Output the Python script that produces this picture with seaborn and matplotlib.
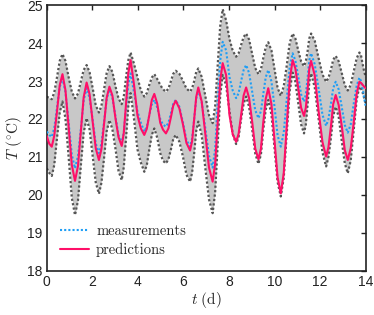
import numpy as np
import pandas as pd
import matplotlib
matplotlib.use("Agg")
import matplotlib.pyplot as plt
import seaborn as sns

# time (days)
t = [0.0, 0.11, 0.22,
     0.33, 0.45, 0.57, 0.69,
     0.82, 0.96, 1.10, 1.24,
     1.37, 1.50, 1.62, 1.75,
     1.88, 2.02, 2.15, 2.29,
     2.40, 2.52, 2.63, 2.75,
     2.88, 3.02, 3.15, 3.29,
     3.38, 3.48, 3.58, 3.68,
     3.83, 3.98, 4.13, 4.28,
     4.39, 4.50, 4.61, 4.72,
     4.85, 4.98, 5.10, 5.23,
     5.34, 5.45, 5.55, 5.66,
     5.82, 5.98, 6.13, 6.29,
     6.38, 6.47, 6.56, 6.65,
     6.80, 6.96, 7.12, 7.28,
     7.39, 7.50, 7.61, 7.72,
     7.87, 8.02, 8.16, 8.31,
     8.42, 8.53, 8.64, 8.75,
     8.88, 9.02, 9.15, 9.29,
     9.40, 9.50, 9.61, 9.72,
     9.86, 10.0, 10.13, 10.27,
     10.40, 10.53, 10.66, 10.79,
     10.91, 11.04, 11.16, 11.29,
     11.37, 11.45, 11.52, 11.60,
     11.76, 11.93, 12.10, 12.26,
     12.36, 12.47, 12.57, 12.68,
     12.81, 12.95, 13.08, 13.21,
     13.34, 13.47, 13.60, 13.72,
     13.79, 13.86, 13.93, 14.0]

predictions = [21.55, 21.35, 21.27,
               21.56, 22.2, 22.89, 23.18,
               22.76, 21.8, 20.79, 20.37,
               20.76, 21.7, 22.57, 22.96,
               22.65, 21.9, 21.23, 20.92,
               21.21, 21.9, 22.56, 22.85,
               22.62, 22.0, 21.52, 21.29,
               21.63, 22.4, 23.21, 23.55,
               22.9, 22.1, 21.75, 21.58,
               21.74, 22.1, 22.5, 22.66,
               22.4, 21.9, 21.72, 21.62,
               21.75, 22.05, 22.35, 22.48,
               22.28, 21.85, 21.37, 21.17,
               21.42, 22.0, 22.58, 22.83,
               22.46, 21.6, 20.72, 20.35,
               20.82, 21.9, 23.0, 23.47,
               23.16, 22.1, 21.6, 21.40,
               21.61, 22.1, 22.62, 22.83,
               22.55, 21.9, 21.22, 20.94,
               21.22, 21.9, 22.53, 22.81,
               22.39, 21.4, 20.46, 20.04,
               20.57, 21.8, 23.02, 23.55,
               23.33, 22.8, 22.3, 22.08,
               22.3, 22.8, 23.31, 23.53,
               23.15, 22.2, 21.39, 21.01,
               21.25, 21.8, 22.39, 22.63,
               22.37, 21.8, 21.18, 20.92,
               21.23, 21.9, 22.67, 22.98,
               22.95, 22.9, 22.85, 22.81]

measurements = [21.67, 21.58, 21.53,
                21.76, 22.3, 22.84, 23.07,
                22.71, 21.9, 21.06, 20.70,
                21.02, 21.75, 22.49, 22.81,
                22.55, 21.95, 21.36, 21.10,
                21.35, 21.95, 22.53, 22.78,
                22.57, 22.05, 21.57, 21.36,
                21.64, 22.3, 22.92, 23.20,
                22.7, 22.2, 21.9, 21.67,
                21.8, 22.1, 22.38, 22.50,
                22.3, 22.0, 21.85, 21.80,
                21.9, 22.15, 22.4, 22.50,
                22.32, 21.9, 21.45, 21.27,
                21.49, 22.0, 22.54, 22.76,
                22.45, 21.75, 21.03, 20.72,
                21.22, 22.4, 23.53, 24.03,
                23.81, 23.1, 22.75, 22.55,
                22.68, 23.0, 23.29, 23.42,
                23.21, 22.7, 22.23, 22.02,
                22.21, 22.65, 23.1, 23.29,
                22.99, 22.3, 21.57, 21.27,
                21.64, 22.5, 23.36, 23.73,
                23.54, 23.1, 22.65, 22.46,
                22.65, 23.1, 23.54, 23.73,
                23.44, 22.8, 22.11, 21.82,
                21.99, 22.4, 22.81, 22.98,
                22.78, 22.3, 21.84, 21.64,
                21.86, 22.4, 22.87, 23.09,
                23.0, 22.8, 22.55, 22.32]

upper = [22.59, 22.55, 22.52,
         22.7, 23.1, 23.53, 23.71,
         23.53, 23.1, 22.72, 22.54,
         22.67, 23.0, 23.29, 23.42,
         23.23, 22.8, 22.36, 22.17,
         22.35, 22.8, 23.21, 23.39,
         23.24, 22.85, 22.54, 22.39,
         22.59, 23.1, 23.55, 23.75,
         23.45, 23.1, 22.75, 22.59,
         22.68, 22.9, 23.09, 23.18,
         23.05, 22.9, 22.78, 22.72,
         22.8, 23.0, 23.19, 23.27,
         23.19, 23.0, 22.8, 22.72,
         22.81, 23.0, 23.24, 23.33,
         23.11, 22.6, 22.1, 21.89,
         22.34, 23.4, 24.44, 24.89,
         24.6, 24.1, 23.8, 23.64,
         23.73, 23.95, 24.16, 24.25,
         24.09, 23.7, 23.34, 23.18,
         23.31, 23.6, 23.89, 24.02,
         23.81, 23.3, 22.82, 22.61,
         22.86, 23.4, 24.0, 24.25,
         24.12, 23.8, 23.52, 23.39,
         23.52, 23.8, 24.12, 24.25,
         24.06, 23.6, 23.17, 22.98,
         23.08, 23.3, 23.56, 23.66,
         23.52, 23.2, 22.89, 22.75,
         22.9, 23.25, 23.6, 23.75,
         23.68, 23.45, 23.25, 23.1]

lower = [20.70, 20.58, 20.50,
         20.79, 21.5, 22.17, 22.46,
         22.01, 21.0, 19.92, 19.47,
         19.85, 20.8, 21.64, 22.02,
         21.72, 21.0, 20.33, 20.03,
         20.32, 21.0, 21.68, 21.97,
         21.73, 21.2, 20.63, 20.39,
         20.73, 21.5, 22.34, 22.68,
         22.0, 21.2, 20.85, 20.61,
         20.78, 21.2, 21.58, 21.75,
         21.5, 21.1, 20.9, 20.83,
         20.94, 21.2, 21.47, 21.58,
         21.4, 21.0, 20.53, 20.35,
         20.59, 21.1, 21.69, 21.93,
         21.57, 20.7, 19.88, 19.52,
         20.07, 21.3, 22.61, 23.16,
         22.89, 22.2, 21.61, 21.34,
         21.53, 22.0, 22.4, 22.59,
         22.32, 21.7, 21.09, 20.82,
         21.07, 21.7, 22.25, 22.50,
         22.12, 21.2, 20.34, 19.96,
         20.45, 21.6, 22.73, 23.22,
         22.98, 22.4, 21.86, 21.62,
         21.86, 22.4, 22.96, 23.20,
         22.83, 22.0, 21.12, 20.75,
         20.99, 21.5, 22.08, 22.32,
         22.06, 21.4, 20.83, 20.57,
         20.91, 21.7, 22.51, 22.85,
         22.8, 22.7, 22.55, 22.4]

x_ticks = [0, 2, 4, 6, 8, 10, 12, 14]
y_ticks = [18, 19, 20, 21, 22, 23, 24, 25]

df = pd.DataFrame({"t": t, "pred": predictions, "meas": measurements,
                   "upper": upper, "lower": lower})

sns.set_theme(style="white")
plt.rcParams["font.family"] = ["Liberation Sans", "DejaVu Sans"]
plt.rcParams["mathtext.fontset"] = "cm"

fig = plt.figure(figsize=(3.74, 3.15), dpi=100)
ax = fig.add_axes([0.125, 0.140, 0.853, 0.844])

ax.fill_between(df["t"], df["lower"], df["upper"], color="#c8c8c8", linewidth=0, zorder=1)
sns.lineplot(data=df, x="t", y="upper", ax=ax, color="#555555", linestyle=(0, (1, 1)),
             linewidth=1.6, zorder=2)
sns.lineplot(data=df, x="t", y="lower", ax=ax, color="#555555", linestyle=(0, (1, 1)),
             linewidth=1.6, zorder=2)
sns.lineplot(data=df, x="t", y="meas", ax=ax, color="#1f9ef5", linestyle=(0, (1, 1)),
             linewidth=1.5, zorder=3, label="measurements")
sns.lineplot(data=df, x="t", y="pred", ax=ax, color="#ff0f68", linewidth=1.5,
             zorder=4, label="predictions")

ax.set_xlim(0, 14)
ax.set_ylim(18, 25)
ax.set_xticks(x_ticks)
ax.set_yticks(y_ticks)
ax.tick_params(direction="in", length=3.5, width=1, top=True, right=True,
               labelsize=10, colors="#222222", pad=3)
for s in ax.spines.values():
    s.set_visible(True)
    s.set_color("#222222")
    s.set_linewidth(1.2)

ax.set_xlabel(r"$t\ \mathrm{(d)}$", fontsize=11, labelpad=1)
ax.set_ylabel(r"$T\ (^{\circ}\mathrm{C})$", fontsize=11, labelpad=2)

leg = ax.legend(loc="lower left", frameon=False, handlelength=2.05,
                borderaxespad=0.0, labelspacing=0.3, handletextpad=0.45,
                bbox_to_anchor=(0.022, 0.03),
                prop={"family": "cmr10", "size": 10.5})

fig.savefig("out.png", dpi=100)
